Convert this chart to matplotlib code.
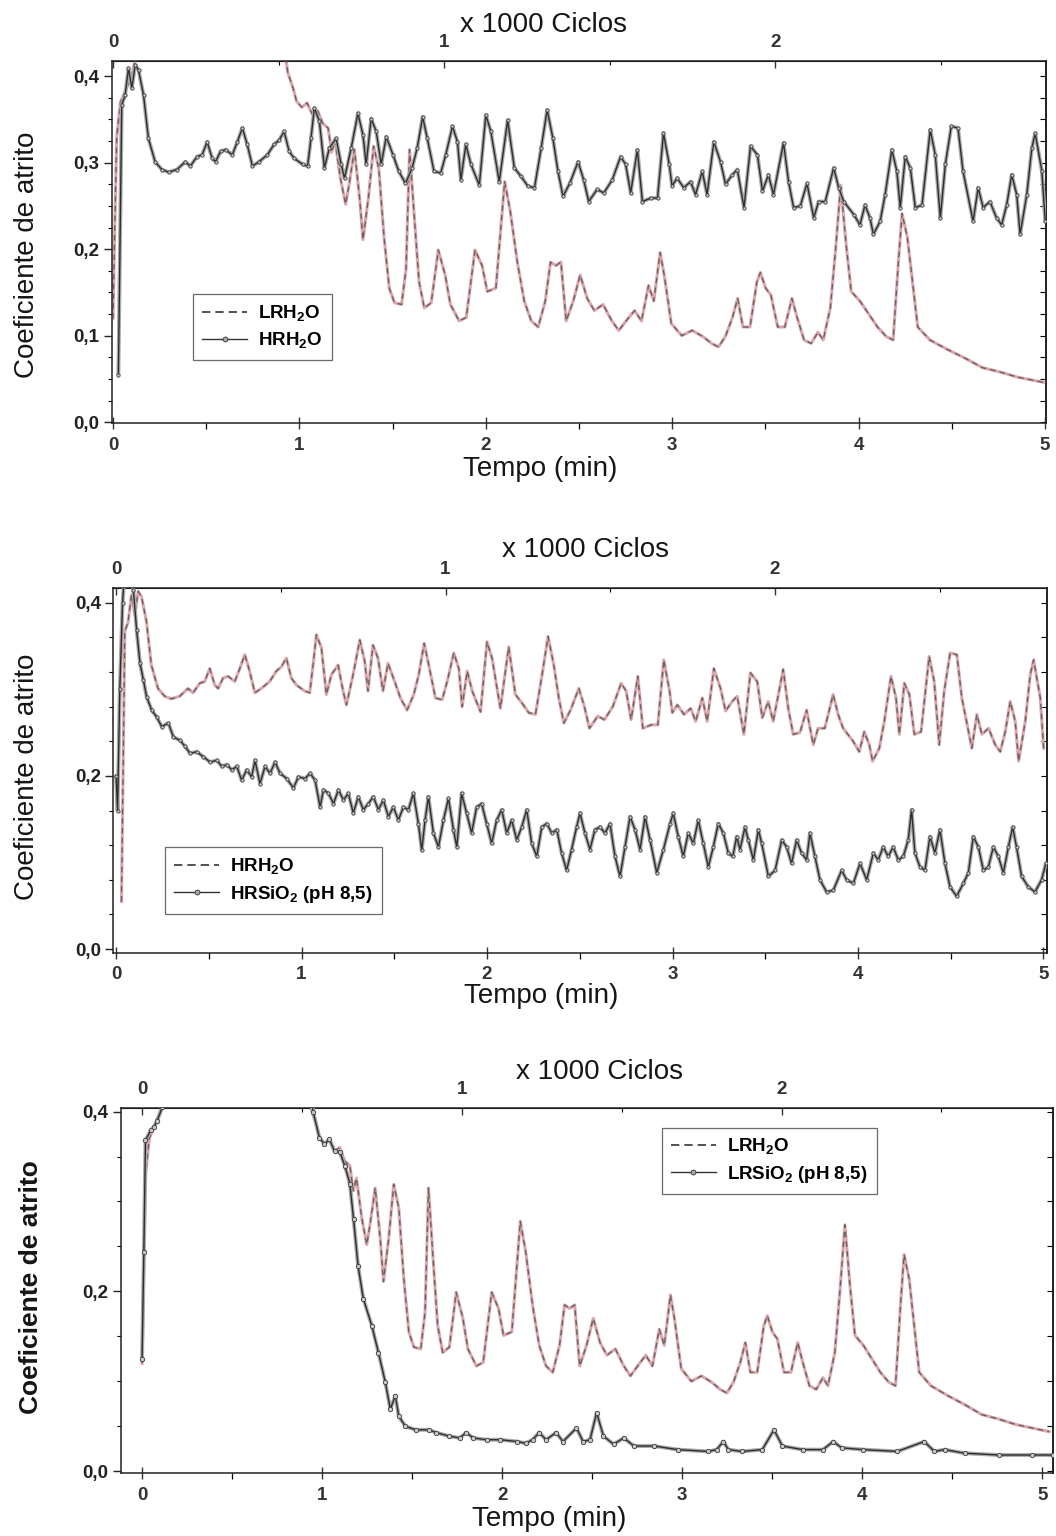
import matplotlib
matplotlib.use("Agg")
import matplotlib.pyplot as plt
from matplotlib.lines import Line2D
from matplotlib.ticker import MultipleLocator, FixedLocator, FuncFormatter
import numpy as np

plt.rcParams['font.family'] = ['Liberation Sans', 'DejaVu Sans']
plt.rcParams['mathtext.fontset'] = 'custom'
plt.rcParams['mathtext.rm'] = 'Liberation Sans'
plt.rcParams['mathtext.bf'] = 'Liberation Sans:bold'

# friction tests: oscillation rate used for the top "x 1000 Ciclos" scale
CYCLES_PER_MIN = 563.0

# (time in min, friction coefficient)
HR_H2O = [
    (0.029, 0.055), (0.047, 0.367), (0.065, 0.378), (0.083, 0.409), (0.101, 0.386),
    (0.119, 0.413), (0.137, 0.407), (0.164, 0.378), (0.19, 0.328), (0.226, 0.301),
    (0.262, 0.292), (0.298, 0.289), (0.343, 0.292), (0.388, 0.301), (0.415, 0.296),
    (0.451, 0.307), (0.478, 0.309), (0.505, 0.324), (0.532, 0.305), (0.55, 0.301),
    (0.577, 0.313), (0.604, 0.315), (0.64, 0.309), (0.667, 0.324), (0.694, 0.34),
    (0.72, 0.321), (0.748, 0.296), (0.783, 0.301), (0.828, 0.309), (0.864, 0.321),
    (0.891, 0.326), (0.918, 0.336), (0.945, 0.313), (0.972, 0.305), (1.017, 0.298),
    (1.044, 0.296), (1.062, 0.328), (1.08, 0.363), (1.107, 0.348), (1.134, 0.294),
    (1.161, 0.317), (1.197, 0.328), (1.224, 0.298), (1.242, 0.282), (1.278, 0.317),
    (1.314, 0.357), (1.341, 0.332), (1.358, 0.298), (1.385, 0.351), (1.412, 0.336),
    (1.439, 0.298), (1.466, 0.33), (1.502, 0.309), (1.533, 0.29), (1.569, 0.276),
    (1.605, 0.294), (1.632, 0.317), (1.661, 0.353), (1.686, 0.328), (1.722, 0.29),
    (1.758, 0.288), (1.785, 0.309), (1.821, 0.342), (1.848, 0.324), (1.866, 0.28),
    (1.893, 0.321), (1.92, 0.298), (1.965, 0.274), (2.0, 0.355), (2.027, 0.336),
    (2.072, 0.278), (2.117, 0.349), (2.153, 0.294), (2.189, 0.284), (2.225, 0.273),
    (2.261, 0.271), (2.297, 0.317), (2.329, 0.361), (2.36, 0.328), (2.387, 0.29),
    (2.414, 0.261), (2.45, 0.276), (2.495, 0.301), (2.525, 0.28), (2.552, 0.255),
    (2.597, 0.269), (2.633, 0.265), (2.678, 0.28), (2.723, 0.307), (2.75, 0.298),
    (2.777, 0.265), (2.813, 0.315), (2.84, 0.255), (2.885, 0.259), (2.921, 0.259),
    (2.953, 0.334), (2.984, 0.298), (2.999, 0.273), (3.026, 0.282), (3.062, 0.271),
    (3.098, 0.278), (3.125, 0.263), (3.161, 0.29), (3.187, 0.263), (3.223, 0.324),
    (3.259, 0.301), (3.286, 0.275), (3.322, 0.286), (3.349, 0.292), (3.385, 0.248),
    (3.42, 0.319), (3.457, 0.309), (3.484, 0.267), (3.516, 0.286), (3.543, 0.263),
    (3.597, 0.323), (3.624, 0.278), (3.651, 0.248), (3.687, 0.25), (3.723, 0.276),
    (3.759, 0.236), (3.785, 0.255), (3.821, 0.255), (3.866, 0.294), (3.893, 0.271),
    (3.92, 0.255), (3.974, 0.24), (4.007, 0.228), (4.034, 0.251), (4.061, 0.236),
    (4.079, 0.217), (4.115, 0.232), (4.142, 0.263), (4.178, 0.315), (4.205, 0.29),
    (4.223, 0.248), (4.25, 0.307), (4.277, 0.294), (4.304, 0.248), (4.34, 0.251),
    (4.384, 0.338), (4.411, 0.309), (4.438, 0.236), (4.465, 0.298), (4.497, 0.342),
    (4.533, 0.34), (4.56, 0.29), (4.614, 0.232), (4.641, 0.271), (4.668, 0.248),
    (4.704, 0.255), (4.74, 0.236), (4.767, 0.228), (4.794, 0.251), (4.821, 0.286),
    (4.848, 0.263), (4.866, 0.217), (4.902, 0.263), (4.929, 0.317), (4.947, 0.334),
    (4.983, 0.29), (5.001, 0.232),
]

LR_H2O = [
    (0.0, 0.12), (0.01, 0.23), (0.02, 0.33), (0.04, 0.37), (0.07, 0.385), (0.10, 0.40),
    (0.13, 0.43), (0.16, 0.47), (0.50, 0.52), (0.90, 0.46), (0.938, 0.404), (0.966, 0.386),
    (0.985, 0.371), (1.013, 0.364), (1.041, 0.369), (1.069, 0.356), (1.098, 0.36),
    (1.126, 0.345), (1.154, 0.34), (1.173, 0.312), (1.191, 0.326), (1.22, 0.282),
    (1.248, 0.252), (1.266, 0.274), (1.295, 0.315), (1.323, 0.259), (1.341, 0.211),
    (1.37, 0.259), (1.398, 0.319), (1.426, 0.293), (1.454, 0.214), (1.482, 0.155),
    (1.51, 0.138), (1.548, 0.136), (1.572, 0.177), (1.591, 0.315), (1.614, 0.244),
    (1.642, 0.162), (1.67, 0.132), (1.707, 0.138), (1.745, 0.199), (1.782, 0.17),
    (1.81, 0.136), (1.857, 0.117), (1.895, 0.121), (1.942, 0.199), (1.98, 0.181),
    (2.008, 0.151), (2.054, 0.155), (2.101, 0.278), (2.131, 0.244), (2.169, 0.185),
    (2.206, 0.14), (2.244, 0.117), (2.281, 0.11), (2.319, 0.14), (2.347, 0.185),
    (2.375, 0.181), (2.403, 0.185), (2.431, 0.117), (2.469, 0.14), (2.506, 0.17),
    (2.544, 0.143), (2.582, 0.129), (2.629, 0.136), (2.676, 0.117), (2.713, 0.106),
    (2.76, 0.119), (2.798, 0.129), (2.835, 0.117), (2.873, 0.158), (2.901, 0.14),
    (2.935, 0.196), (2.957, 0.17), (2.995, 0.114), (3.051, 0.1), (3.107, 0.106),
    (3.164, 0.099), (3.211, 0.091), (3.248, 0.087), (3.285, 0.099), (3.323, 0.121),
    (3.351, 0.143), (3.379, 0.11), (3.417, 0.11), (3.454, 0.162), (3.473, 0.173),
    (3.501, 0.155), (3.529, 0.147), (3.566, 0.11), (3.604, 0.11), (3.642, 0.143),
    (3.67, 0.121), (3.707, 0.095), (3.745, 0.091), (3.782, 0.104), (3.81, 0.095),
    (3.848, 0.132), (3.876, 0.199), (3.904, 0.274), (3.932, 0.207), (3.96, 0.151),
    (4.007, 0.14), (4.054, 0.125), (4.101, 0.11), (4.148, 0.099), (4.185, 0.095),
    (4.214, 0.188), (4.233, 0.241), (4.261, 0.214), (4.289, 0.162), (4.317, 0.11),
    (4.382, 0.095), (4.476, 0.084), (4.57, 0.074), (4.664, 0.063), (4.758, 0.058),
    (4.852, 0.052), (4.945, 0.048), (5.039, 0.044),
]

HR_SIO2 = [
    (0.0, 0.20), (0.008, 0.16), (0.02, 0.30), (0.035, 0.40), (0.05, 0.45), (0.07, 0.46),
    (0.093, 0.415), (0.111, 0.368), (0.129, 0.33), (0.147, 0.311), (0.165, 0.291),
    (0.192, 0.276), (0.219, 0.268), (0.246, 0.257), (0.282, 0.261), (0.309, 0.245),
    (0.345, 0.241), (0.372, 0.234), (0.399, 0.226), (0.435, 0.228), (0.471, 0.222),
    (0.507, 0.216), (0.543, 0.218), (0.57, 0.211), (0.597, 0.213), (0.624, 0.207),
    (0.651, 0.211), (0.677, 0.195), (0.704, 0.207), (0.731, 0.199), (0.749, 0.218),
    (0.776, 0.191), (0.803, 0.211), (0.83, 0.203), (0.857, 0.216), (0.884, 0.203),
    (0.92, 0.197), (0.956, 0.186), (0.983, 0.199), (1.019, 0.197), (1.046, 0.203),
    (1.073, 0.195), (1.1, 0.164), (1.118, 0.184), (1.145, 0.18), (1.172, 0.168),
    (1.199, 0.184), (1.226, 0.172), (1.252, 0.18), (1.279, 0.157), (1.306, 0.176),
    (1.333, 0.161), (1.36, 0.168), (1.387, 0.176), (1.414, 0.161), (1.441, 0.172),
    (1.468, 0.153), (1.495, 0.164), (1.522, 0.149), (1.549, 0.164), (1.576, 0.161),
    (1.603, 0.18), (1.63, 0.145), (1.648, 0.114), (1.666, 0.149), (1.684, 0.176),
    (1.711, 0.134), (1.738, 0.118), (1.765, 0.149), (1.792, 0.174), (1.819, 0.138),
    (1.837, 0.118), (1.863, 0.18), (1.89, 0.157), (1.917, 0.134), (1.944, 0.164),
    (1.971, 0.168), (1.998, 0.145), (2.025, 0.122), (2.052, 0.149), (2.079, 0.161),
    (2.106, 0.134), (2.133, 0.149), (2.16, 0.126), (2.187, 0.141), (2.214, 0.161),
    (2.241, 0.122), (2.268, 0.107), (2.295, 0.141), (2.322, 0.145), (2.349, 0.134),
    (2.376, 0.138), (2.402, 0.111), (2.429, 0.091), (2.456, 0.115), (2.483, 0.141),
    (2.501, 0.157), (2.528, 0.134), (2.555, 0.115), (2.582, 0.138), (2.609, 0.141),
    (2.636, 0.134), (2.663, 0.145), (2.69, 0.107), (2.717, 0.084), (2.744, 0.118),
    (2.771, 0.153), (2.798, 0.138), (2.825, 0.115), (2.852, 0.153), (2.879, 0.126),
    (2.915, 0.088), (2.951, 0.115), (2.987, 0.145), (3.004, 0.157), (3.031, 0.13),
    (3.058, 0.107), (3.085, 0.134), (3.112, 0.122), (3.139, 0.149), (3.166, 0.122),
    (3.193, 0.095), (3.22, 0.118), (3.247, 0.145), (3.274, 0.134), (3.301, 0.111),
    (3.325, 0.107), (3.346, 0.13), (3.364, 0.115), (3.391, 0.141), (3.409, 0.126),
    (3.436, 0.103), (3.463, 0.138), (3.481, 0.122), (3.517, 0.084), (3.553, 0.091),
    (3.589, 0.126), (3.615, 0.118), (3.642, 0.099), (3.669, 0.126), (3.696, 0.111),
    (3.723, 0.103), (3.741, 0.134), (3.768, 0.107), (3.795, 0.08), (3.831, 0.066),
    (3.867, 0.068), (3.912, 0.091), (3.939, 0.08), (3.975, 0.076), (4.011, 0.099),
    (4.047, 0.08), (4.083, 0.111), (4.109, 0.103), (4.136, 0.118), (4.163, 0.107),
    (4.19, 0.118), (4.217, 0.103), (4.244, 0.107), (4.271, 0.126), (4.289, 0.161),
    (4.307, 0.111), (4.334, 0.095), (4.361, 0.091), (4.388, 0.13), (4.415, 0.111),
    (4.442, 0.138), (4.469, 0.099), (4.496, 0.072), (4.532, 0.061), (4.568, 0.076),
    (4.595, 0.088), (4.622, 0.13), (4.649, 0.118), (4.676, 0.091), (4.703, 0.095),
    (4.73, 0.118), (4.757, 0.107), (4.784, 0.088), (4.811, 0.118), (4.834, 0.141),
    (4.855, 0.118), (4.882, 0.084), (4.918, 0.072), (4.954, 0.066), (4.99, 0.08),
    (5.013, 0.099),
]

LR_SIO2 = [
    (0.0, 0.125), (0.01, 0.244), (0.019, 0.368), (0.047, 0.379), (0.066, 0.383),
    (0.084, 0.39), (0.113, 0.405), (0.14, 0.44), (0.5, 0.5), (0.92, 0.45), (0.95, 0.40),
    (0.985, 0.371), (1.013, 0.364), (1.041, 0.369), (1.069, 0.356), (1.098, 0.355),
    (1.126, 0.34), (1.154, 0.32), (1.175, 0.28), (1.2, 0.228), (1.229, 0.192),
    (1.276, 0.162), (1.313, 0.132), (1.351, 0.099), (1.379, 0.069), (1.407, 0.084),
    (1.426, 0.061), (1.463, 0.05), (1.52, 0.046), (1.595, 0.046), (1.632, 0.043),
    (1.707, 0.039), (1.764, 0.037), (1.801, 0.043), (1.839, 0.037), (1.914, 0.035),
    (1.989, 0.035), (2.083, 0.033), (2.131, 0.031), (2.169, 0.035), (2.206, 0.043),
    (2.244, 0.035), (2.3, 0.043), (2.338, 0.033), (2.413, 0.048), (2.45, 0.033),
    (2.488, 0.035), (2.525, 0.065), (2.563, 0.039), (2.619, 0.03), (2.676, 0.037),
    (2.732, 0.028), (2.845, 0.028), (2.976, 0.024), (3.145, 0.022), (3.191, 0.024),
    (3.229, 0.033), (3.257, 0.024), (3.332, 0.022), (3.445, 0.024), (3.51, 0.046),
    (3.557, 0.028), (3.67, 0.024), (3.782, 0.024), (3.839, 0.033), (3.886, 0.026),
    (4.007, 0.024), (4.195, 0.022), (4.345, 0.033), (4.401, 0.022), (4.458, 0.024),
    (4.57, 0.02), (4.758, 0.018), (4.945, 0.018), (5.058, 0.018),
]

LABEL_LR_H2O = r'LRH$_\mathbf{2}$O'
LABEL_HR_H2O = r'HRH$_\mathbf{2}$O'
LABEL_HR_SIO2 = r'HRSiO$_\mathbf{2}$ (pH 8,5)'
LABEL_LR_SIO2 = r'LRSiO$_\mathbf{2}$ (pH 8,5)'

TOP_TITLE = 'x 1000 Ciclos'
X_LABEL = 'Tempo (min)'
Y_LABEL = 'Coeficiente de atrito'

W, H = 1056, 1536
TXT = '#151515'
PINK = '#dba6ab'
DARK = '#2e2e2e'


def split(series):
    t, mu = zip(*series)
    return np.array(t), np.array(mu)


def plot_dashed(ax, series):
    t, mu = split(series)
    ax.plot(t, mu, color=PINK, lw=2.2, solid_joinstyle='round', zorder=2)
    ax.plot(t, mu, color='#505050', lw=1.0, ls=(0, (4, 3)), zorder=3, alpha=0.8)


def plot_marked(ax, series, ms=2.6):
    t, mu = split(series)
    # soft grey body of the trace, then the dark line with its symbols
    ax.plot(t, mu, color='#a9a9a9', lw=2.8, solid_joinstyle='round',
            solid_capstyle='round', zorder=4)
    ax.plot(t, mu, color=DARK, lw=1.0, marker='o', ms=ms, mfc='#c8c8c8',
            mec='#3a3a3a', mew=0.6, zorder=5)


def comma(v, _):
    return f'{v:.1f}'.replace('.', ',')


def px_to_fig(x, y):
    return x / W, 1 - y / H


def setup(ax, xlim, ylim, ymajor, yminor_left, yminor_right):
    ax.set_xlim(*xlim)
    ax.set_ylim(*ylim)
    for s in ax.spines.values():
        s.set_linewidth(1.1)
        s.set_color('#222222')
    ax.xaxis.set_major_locator(FixedLocator([0, 1, 2, 3, 4, 5]))
    ax.xaxis.set_minor_locator(FixedLocator([0.5, 1.5, 2.5, 3.5, 4.5]))
    ax.yaxis.set_major_locator(FixedLocator(ymajor))
    ax.yaxis.set_minor_locator(MultipleLocator(yminor_left))
    ax.yaxis.set_major_formatter(FuncFormatter(comma))
    ax.tick_params(axis='x', which='major', direction='inout', length=8, width=1.0,
                   pad=6, labelsize=13.5, colors='#333333', top=False)
    ax.tick_params(axis='x', which='minor', direction='out', length=4, width=0.9, top=False)
    ax.tick_params(axis='y', which='major', direction='out', length=6, width=1.0,
                   pad=3, labelsize=13.5, colors='#222222', right=False)
    ax.tick_params(axis='y', which='minor', direction='out', length=3, width=0.8, right=False)
    for lbl in ax.get_xticklabels() + ax.get_yticklabels():
        lbl.set_fontweight('bold')

    # right-hand inner ticks
    ry = ax.secondary_yaxis('right')
    ry.yaxis.set_major_locator(MultipleLocator(yminor_right))
    ry.tick_params(direction='in', length=4, width=0.8, labelright=False)
    ry.spines['right'].set_linewidth(1.1)

    # top scale in thousands of cycles
    top = ax.secondary_xaxis('top', functions=(lambda t: t * CYCLES_PER_MIN / 1000.0,
                                               lambda c: c * 1000.0 / CYCLES_PER_MIN))
    top.xaxis.set_major_locator(FixedLocator([0, 1, 2]))
    top.xaxis.set_minor_locator(FixedLocator([0.5, 1.5, 2.5]))
    top.tick_params(which='major', direction='in', length=5, width=1.0, pad=7,
                    labelsize=13.5, colors='#333333')
    top.tick_params(which='minor', direction='in', length=3, width=0.8)
    for lbl in top.get_xticklabels():
        lbl.set_fontweight('bold')
    return ax


def legend(ax, entries, anchor):
    handles = []
    for style, label in entries:
        if style == 'dashed':
            h = Line2D([], [], color='#333333', lw=1.2, ls=(0, (5, 3)), label=label)
        else:
            h = Line2D([], [], color='#333333', lw=1.0, marker='o', ms=3.5,
                       mfc='#a8a8a8', mec='#333333', mew=0.6, label=label)
        handles.append(h)
    leg = ax.legend(handles=handles, loc='lower left', bbox_to_anchor=anchor,
                    frameon=True, fancybox=False, edgecolor='#444444',
                    prop={'size': 13.5, 'weight': 'bold'}, handlelength=2.4,
                    handletextpad=0.6, borderpad=0.5, labelspacing=0.35,
                    borderaxespad=0.0)
    leg.get_frame().set_linewidth(0.9)
    leg.set_zorder(10)
    return leg


fig = plt.figure(figsize=(W / 100, H / 100), dpi=100)
fig.patch.set_facecolor('white')

# Panel 1: LRH2O vs HRH2O
ax1 = fig.add_axes([111.5 / W, 1 - 423 / H, (1046 - 111.5) / W, (423 - 61) / H])
setup(ax1, (-0.008, 5.005), (-0.001, 0.4175), [0.0, 0.1, 0.2, 0.3, 0.4], 0.025, 0.025)
plot_dashed(ax1, LR_H2O)
plot_marked(ax1, HR_H2O, ms=2.4)
legend(ax1, [('dashed', LABEL_LR_H2O), ('marked', LABEL_HR_H2O)], (0.087, 0.174))

# Panel 2: HRH2O vs HRSiO2
ax2 = fig.add_axes([113.3 / W, 1 - 952.6 / H, (1046.6 - 113.3) / W, (952.6 - 588) / H])
setup(ax2, (-0.015, 5.017), (-0.004, 0.417), [0.0, 0.2, 0.4], 0.04, 0.04)
plot_dashed(ax2, HR_H2O)
plot_marked(ax2, HR_SIO2, ms=2.4)
legend(ax2, [('dashed', LABEL_HR_H2O), ('marked', LABEL_HR_SIO2)], (0.055, 0.106))

# Panel 3: LRH2O vs LRSiO2
ax3 = fig.add_axes([121 / W, 1 - 1473 / H, (1053 - 121) / W, (1473 - 1108) / H])
setup(ax3, (-0.117, 5.06), (-0.002, 0.404), [0.0, 0.2, 0.4], 0.05, 0.05)
plot_dashed(ax3, LR_H2O)
plot_marked(ax3, LR_SIO2, ms=3.2)
legend(ax3, [('dashed', LABEL_LR_H2O), ('marked', LABEL_LR_SIO2)], (0.58, 0.764))

# titles, axis labels
for (tx, ty), (xx, xy), (yx, yy), yweight in [
    ((543, 25), (540, 469), (27, 255), 'normal'),
    ((585, 550), (541, 996), (27, 777), 'normal'),
    ((600, 1072), (549, 1519), (31, 1287), 'bold'),
]:
    fig.text(*px_to_fig(tx, ty), TOP_TITLE, ha='center', va='center', fontsize=20, color=TXT)
    fig.text(*px_to_fig(xx, xy), X_LABEL, ha='center', va='center', fontsize=20, color=TXT)
    fig.text(*px_to_fig(yx, yy), Y_LABEL, ha='center', va='center', rotation=90,
             fontsize=20 if yweight == 'normal' else 19, fontweight=yweight, color=TXT)

fig.savefig('out.png', dpi=100, facecolor='white')
